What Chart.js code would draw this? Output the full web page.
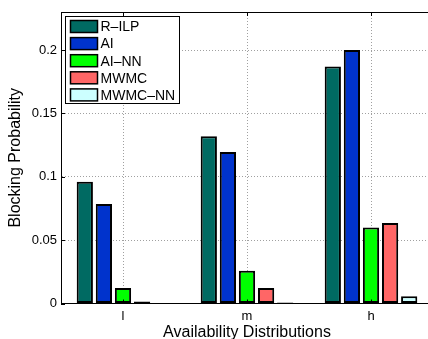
<!DOCTYPE html>
<html>
<head>
<meta charset="utf-8">
<script src="https://cdn.jsdelivr.net/npm/chart.js@4"></script>
<style>
  html, body { margin: 0; padding: 0; background: #fff; overflow: hidden; }
  #wrap { width: 440px; height: 339px; }
</style>
</head>
<body>
<div id="wrap"><canvas id="chart" width="440" height="339"></canvas></div>
<script>
const categories = ['l', 'm', 'h'];
const seriesNames = ['R–ILP', 'AI', 'AI–NN', 'MWMC', 'MWMC–NN'];
const rilp = [0.096, 0.132, 0.187];
const ai = [0.0785, 0.1195, 0.200];
const aiNN = [0.0123, 0.0258, 0.060];
const mwmc = [0.0015, 0.0123, 0.0636];
const mwmcNN = [0.0004, 0.0008, 0.0058];
const yTicks = [0, 0.05, 0.1, 0.15, 0.2];

const colors = ['#006a62', '#0033cc', '#00ff00', '#ff6666', '#ccffff'];
const FONT = '"Liberation Sans", Arial, Helvetica, sans-serif';

const seriesData = [rilp, ai, aiNN, mwmc, mwmcNN];

// axes box, inward tick marks and the framed legend, matlab style
const decor = {
  id: 'decor',
  afterDatasetsDraw(chart) {
    const ctx = chart.ctx;
    const a = chart.chartArea;
    const xs = chart.scales.x;
    const ys = chart.scales.y;
    ctx.save();
    ctx.strokeStyle = '#000';
    ctx.lineWidth = 1;
    ctx.beginPath();
    ctx.moveTo(a.left, a.top + 0.5);
    ctx.lineTo(a.right, a.top + 0.5);
    categories.forEach((c, i) => {
      const x = Math.round(xs.getPixelForValue(i)) + 0.5;
      ctx.moveTo(x, a.bottom);
      ctx.lineTo(x, a.bottom - 4);
      ctx.moveTo(x, a.top);
      ctx.lineTo(x, a.top + 4);
    });
    yTicks.forEach(v => {
      const y = Math.round(ys.getPixelForValue(v)) + 0.5;
      ctx.moveTo(a.left, y);
      ctx.lineTo(a.left + 4, y);
    });
    ctx.stroke();

    // legend
    const lx = a.left + 4.5, ly = a.top + 4.5;
    const lw = 114, lh = 87;
    ctx.fillStyle = '#fff';
    ctx.fillRect(lx, ly, lw, lh);
    ctx.lineWidth = 1;
    ctx.strokeRect(lx, ly, lw, lh);
    ctx.font = '14px ' + FONT;
    ctx.textBaseline = 'middle';
    ctx.textAlign = 'left';
    seriesNames.forEach((name, i) => {
      const cy = ly + 10 + i * 17.1;
      ctx.fillStyle = colors[i];
      ctx.fillRect(lx + 5, cy - 6, 27, 12);
      ctx.lineWidth = 1.5;
      ctx.strokeStyle = '#000';
      ctx.strokeRect(lx + 5, cy - 6, 27, 12);
      ctx.fillStyle = '#000';
      ctx.fillText(name, lx + 35, cy + 1);
    });
    ctx.restore();
  }
};

new Chart(document.getElementById('chart'), {
  type: 'bar',
  data: {
    labels: categories,
    datasets: seriesNames.map((name, i) => ({
      label: name,
      data: seriesData[i],
      backgroundColor: colors[i],
      borderColor: '#000',
      borderWidth: 2,
      borderSkipped: false,
      categoryPercentage: 0.77,
      barPercentage: 0.85
    }))
  },
  options: {
    responsive: false,
    devicePixelRatio: 1,
    animation: false,
    layout: { padding: { top: 12, right: 7, left: 0, bottom: 0 } },
    plugins: {
      legend: { display: false },
      tooltip: { enabled: false }
    },
    scales: {
      x: {
        afterFit: s => { s.height = 35.5; },
        grid: { offset: false, color: '#a0a0a0', lineWidth: 1, drawTicks: false },
        border: { display: true, color: '#000', width: 1, dash: [1, 2] },
        ticks: { color: '#000', padding: 5, font: { family: FONT, size: 13 } },
        title: {
          display: true,
          text: 'Availability Distributions',
          color: '#000',
          padding: { top: 0, bottom: 0 },
          font: { family: FONT, size: 16, lineHeight: 0.8 }
        }
      },
      y: {
        min: 0,
        max: 0.23,
        afterFit: s => { s.width = 61; },
        afterBuildTicks: s => { s.ticks = yTicks.map(v => ({ value: v })); },
        grid: { color: '#a0a0a0', lineWidth: 1, drawTicks: false },
        border: { display: true, color: '#000', width: 1, dash: [1, 2] },
        ticks: {
          color: '#000',
          padding: 4,
          font: { family: FONT, size: 13 },
          callback: v => String(v)
        },
        title: {
          display: true,
          text: 'Blocking Probability',
          color: '#000',
          padding: { top: 8, bottom: 0 },
          font: { family: FONT, size: 16, lineHeight: 1 }
        }
      }
    }
  },
  plugins: [decor]
});
</script>
</body>
</html>
